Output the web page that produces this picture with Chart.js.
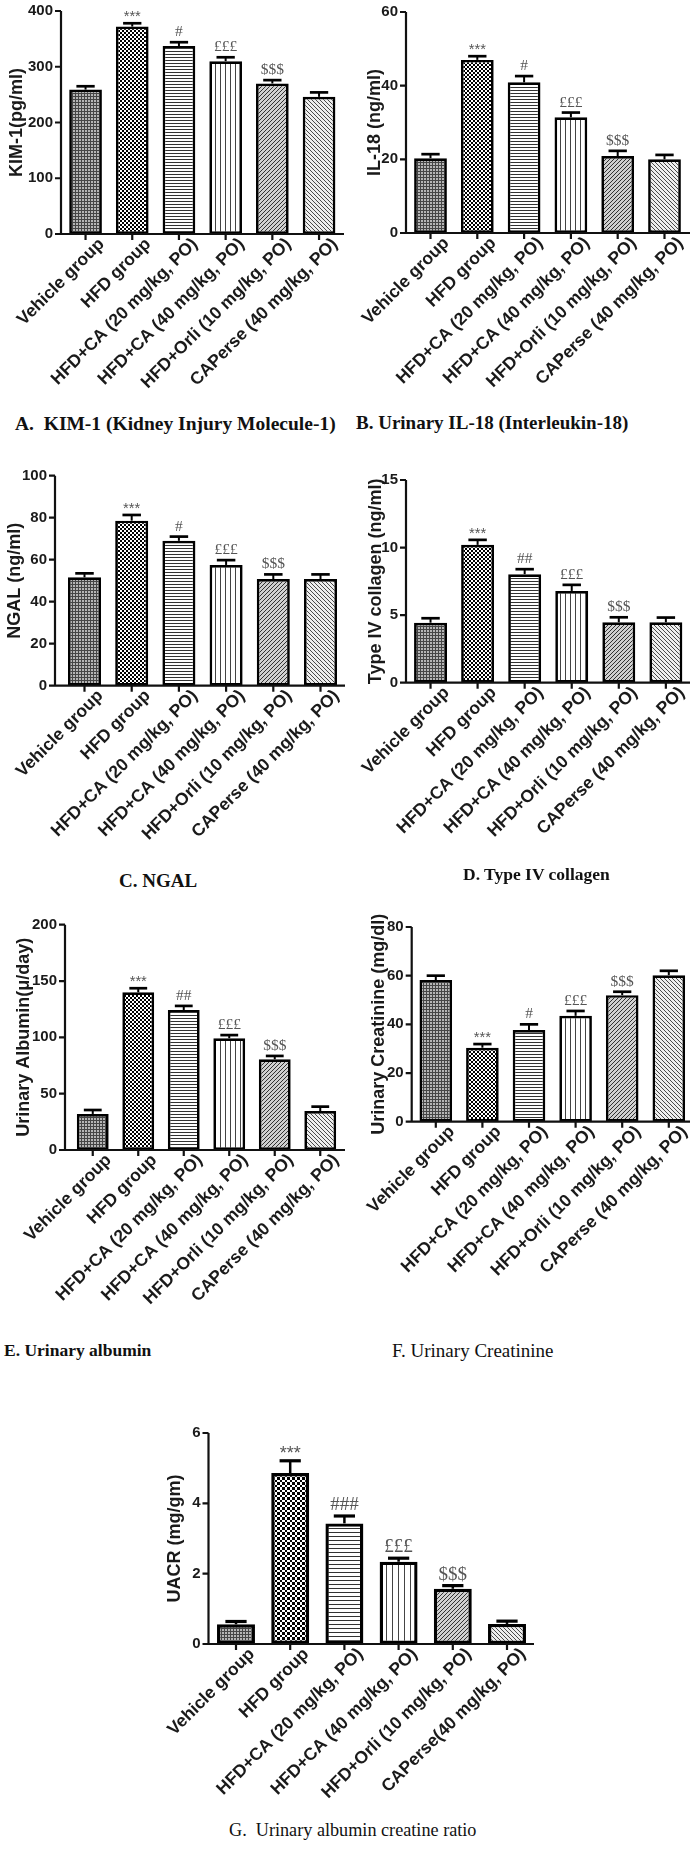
<!DOCTYPE html>
<html>
<head>
<meta charset="utf-8">
<script src="https://cdn.jsdelivr.net/npm/chart.js@4.4.0/dist/chart.umd.min.js"></script>
<style>
  html, body { margin: 0; padding: 0; background: #fff; overflow: hidden; }
  body { position: relative; width: 690px; height: 1862px; }
  canvas { position: absolute; }
  .cap { position: absolute; font-family: 'Liberation Serif', 'Times New Roman', serif; white-space: pre; line-height: 1; color: #111; }
</style>
</head>
<body>
<script>
// --- data ---
const groups = ['Vehicle group', 'HFD group', 'HFD+CA (20 mg/kg, PO)', 'HFD+CA (40 mg/kg, PO)', 'HFD+Orli (10 mg/kg, PO)', 'CAPerse (40 mg/kg, PO)'];
const groupsG = ['Vehicle group', 'HFD group', 'HFD+CA (20 mg/kg, PO)', 'HFD+CA (40 mg/kg, PO)', 'HFD+Orli (10 mg/kg, PO)', 'CAPerse(40 mg/kg, PO)'];

const kim1 = [259, 372, 337, 310, 270, 246];
const kim1Sem = [6, 6, 7, 7, 6, 8];
const kim1Sig = ['', '***', '#', '£££', '$$$', ''];
const kim1Ticks = [0, 100, 200, 300, 400];

const il18 = [20.3, 47.0, 40.9, 31.4, 20.9, 20.0];
const il18Sem = [1.1, 1.0, 1.7, 1.3, 1.4, 1.2];
const il18Sig = ['', '***', '#', '£££', '$$$', ''];
const il18Ticks = [0, 20, 40, 60];

const ngal = [51.6, 78.6, 69.0, 57.5, 50.8, 50.8];
const ngalSem = [1.9, 2.7, 2.0, 2.3, 2.2, 2.2];
const ngalSig = ['', '***', '#', '£££', '$$$', ''];
const ngalTicks = [0, 20, 40, 60, 80, 100];

const col4 = [4.44, 10.2, 8.03, 6.79, 4.47, 4.47];
const col4Sem = [0.33, 0.37, 0.37, 0.45, 0.37, 0.35];
const col4Sig = ['', '***', '##', '£££', '$$$', ''];
const col4Ticks = [0, 5, 10, 15];

const alb = [32, 140, 124.3, 99.2, 80.5, 34.6];
const albSem = [3.5, 3.6, 3.6, 2.8, 3.0, 3.9];
const albSig = ['', '***', '##', '£££', '$$$', ''];
const albTicks = [0, 50, 100, 150, 200];

const creat = [58.2, 30.4, 37.7, 43.5, 52.0, 60.2];
const creatSem = [1.8, 1.5, 2.3, 2.0, 1.4, 1.8];
const creatSig = ['', '***', '#', '£££', '$$$', ''];
const creatTicks = [0, 20, 40, 60, 80];

const uacr = [0.56, 4.86, 3.43, 2.34, 1.57, 0.57];
const uacrSem = [0.08, 0.35, 0.21, 0.10, 0.09, 0.08];
const uacrSig = ['', '***', '###', '£££', '$$$', ''];
const uacrTicks = [0, 2, 4, 6];

const SANS = "'Liberation Sans', Arial, sans-serif";
const SERIF = "'Liberation Serif', 'Times New Roman', serif";
const TITLE_SIZE = 18;

// fill textures, one per group (Prism style)
function pattern(kind, big) {
    const c = document.createElement('canvas');
    const g = c.getContext('2d');
    let s = 4;
    if (kind === 'mesh') {
        s = 3; c.width = c.height = s;
        g.fillStyle = '#b5b5b5'; g.fillRect(0, 0, s, s);
        g.fillStyle = '#454545'; g.fillRect(0, 0, s, 1); g.fillRect(0, 0, 1, s);
    } else if (kind === 'checker') {
        s = big ? 5 : 4; c.width = c.height = s;
        const h = Math.floor(s / 2);
        g.fillStyle = '#fff'; g.fillRect(0, 0, s, s);
        g.fillStyle = '#000'; g.fillRect(0, 0, h, h); g.fillRect(h, h, s - h, s - h);
    } else if (kind === 'hlines') {
        s = big ? 4 : 3; c.width = c.height = s;
        g.fillStyle = '#fff'; g.fillRect(0, 0, s, s);
        g.fillStyle = '#333'; g.fillRect(0, 0, s, 1);
    } else if (kind === 'vlines') {
        s = big ? 6 : 5; c.width = c.height = s;
        g.fillStyle = '#fff'; g.fillRect(0, 0, s, s);
        g.fillStyle = '#444'; g.fillRect(0, 0, 1, s);
    } else if (kind === 'slash') {
        s = 4; c.width = c.height = s;
        g.fillStyle = '#d0d0d0'; g.fillRect(0, 0, s, s);
        g.fillStyle = '#333';
        for (let i = 0; i < s; i++) g.fillRect(i, s - 1 - i, 1, 1);
    } else {
        s = 4; c.width = c.height = s;
        g.fillStyle = '#eeeeee'; g.fillRect(0, 0, s, s);
        g.fillStyle = '#4a4a4a';
        for (let i = 0; i < s; i++) g.fillRect(i, i, 1, 1);
    }
    return g.createPattern(c, 'repeat');
}

function fillsFor(big) {
    return ['mesh', 'checker', 'hlines', 'vlines', 'slash', 'back'].map(k => pattern(k, big));
}

// error bars, significance marks and the Prism-style axes
const prismPlugin = {
    id: 'prism',
    afterDatasetsDraw(chart, args, o) {
        const { ctx, scales: { y } } = chart;
        const ds = chart.data.datasets[0];
        const meta = chart.getDatasetMeta(0);
        ctx.save();
        ctx.strokeStyle = '#000';
        meta.data.forEach((bar, i) => {
            const yTop = y.getPixelForValue(ds.data[i] + ds.sem[i]);
            const hw = bar.width * 0.28;
            ctx.lineWidth = o.stem;
            ctx.beginPath(); ctx.moveTo(bar.x, bar.y); ctx.lineTo(bar.x, yTop); ctx.stroke();
            ctx.lineWidth = o.cap;
            ctx.beginPath(); ctx.moveTo(bar.x - hw, yTop); ctx.lineTo(bar.x + hw, yTop); ctx.stroke();
            const s = ds.sig[i];
            if (s) {
                const star = s[0] === '*';
                ctx.fillStyle = '#555';
                ctx.font = (star ? o.sigSize * 0.95 : o.sigSize) + 'px ' + (star ? SANS : SERIF);
                ctx.textAlign = 'center';
                ctx.textBaseline = 'alphabetic';
                ctx.fillText(s, bar.x, yTop - (star ? 2 : 6));
            }
        });
        ctx.restore();
    },
    afterDraw(chart, args, o) {
        const { ctx, scales: { x, y } } = chart;
        const yb = y.getPixelForValue(0), yt = y.getPixelForValue(y.max);
        ctx.save();
        ctx.strokeStyle = '#111';
        ctx.lineWidth = 2.2;
        ctx.beginPath();
        ctx.moveTo(o.axX, yt); ctx.lineTo(o.axX, yb); ctx.lineTo(o.xEnd, yb);
        y.ticks.forEach(t => {
            const py = y.getPixelForValue(t.value);
            ctx.moveTo(o.axX - 6, py); ctx.lineTo(o.axX, py);
        });
        x.ticks.forEach((t, i) => {
            const px = x.getPixelForTick(i);
            ctx.moveTo(px, yb); ctx.lineTo(px, yb + 6);
        });
        ctx.stroke();
        ctx.restore();
    }
};

// page layout of the seven panels (page pixels)
const panels = [
    { box: [0, 0, 345, 410], axX: 61, plotL: 62.2, plotR: 342.4, top: 11, bottom: 234, xEnd: 344, titleX: 17,
      title: 'KIM-1(pg/ml)', labels: groups, values: kim1, sem: kim1Sem, sig: kim1Sig, ticks: kim1Ticks },
    { box: [345, 0, 345, 410], axX: 406, plotL: 407.1, plotR: 687.9, top: 12, bottom: 233, xEnd: 690, titleX: 375,
      title: 'IL-18 (ng/ml)', labels: groups, values: il18, sem: il18Sem, sig: il18Sig, ticks: il18Ticks },
    { box: [0, 440, 345, 425], axX: 55, plotL: 60.9, plotR: 344.1, top: 475.7, bottom: 685.7, xEnd: 345, titleX: 15,
      title: 'NGAL (ng/ml)', labels: groups, values: ngal, sem: ngalSem, sig: ngalSig, ticks: ngalTicks },
    { box: [345, 440, 345, 425], axX: 406, plotL: 407, plotR: 689.4, top: 480, bottom: 682.7, xEnd: 690, titleX: 376,
      title: 'Type IV collagen (ng/ml)', labels: groups, values: col4, sem: col4Sem, sig: col4Sig, ticks: col4Ticks },
    { box: [0, 895, 345, 435], axX: 65, plotL: 70, plotR: 343, top: 924.7, bottom: 1150, xEnd: 345, titleX: 24,
      title: 'Urinary Albumin(\u03bc/day)', labels: groups, values: alb, sem: albSem, sig: albSig, ticks: albTicks },
    { box: [345, 895, 350, 435], axX: 411.7, plotL: 412.5, plotR: 692.1, top: 927, bottom: 1121.7, xEnd: 690, titleX: 379,
      title: 'Urinary Creatinine (mg/dl)', labels: groups, values: creat, sem: creatSem, sig: creatSig, ticks: creatTicks },
    { box: [140, 1400, 410, 410], axX: 208.5, plotL: 208.9, plotR: 534.1, top: 1433, bottom: 1644, xEnd: 534, titleX: 175,
      title: 'UACR (mg/gm)', labels: groupsG, values: uacr, sem: uacrSem, sig: uacrSig, ticks: uacrTicks, big: true }
];

const captions = [
    { text: 'A.  KIM-1 (Kidney Injury Molecule-1)', x: 15, y: 424, size: 19.5, bold: true },
    { text: 'B. Urinary IL-18 (Interleukin-18)', x: 356, y: 422, size: 19, bold: true },
    { text: 'C. NGAL', x: 119, y: 880, size: 19, bold: true },
    { text: 'D. Type IV collagen', x: 463, y: 875, size: 17.5, bold: true },
    { text: 'E. Urinary albumin', x: 4, y: 1351, size: 17.5, bold: true },
    { text: 'F. Urinary Creatinine', x: 392, y: 1350, size: 19, bold: false },
    { text: 'G.  Urinary albumin creatine ratio', x: 229, y: 1830, size: 18.2, bold: false }
];

function buildPanel(p) {
    const [L, T, W, H] = p.box;
    const cv = document.createElement('canvas');
    cv.width = W; cv.height = H;
    cv.style.left = L + 'px'; cv.style.top = T + 'px';
    cv.style.width = W + 'px'; cv.style.height = H + 'px';
    document.body.appendChild(cv);

    new Chart(cv, {
        type: 'bar',
        data: {
            labels: p.labels,
            datasets: [{
                data: p.values,
                sem: p.sem,
                sig: p.sig,
                backgroundColor: fillsFor(p.big),
                borderColor: '#000',
                borderWidth: p.big ? 3.4 : 2.7,
                borderSkipped: false,
                barPercentage: 0.7,
                categoryPercentage: 1
            }]
        },
        options: {
            responsive: false,
            animation: false,
            devicePixelRatio: 1,
            layout: { autoPadding: false, padding: { left: 0, top: p.top - T, right: L + W - p.plotR, bottom: 0 } },
            plugins: {
                legend: { display: false },
                tooltip: { enabled: false },
                prism: { axX: p.axX - L, xEnd: p.xEnd - L, stem: p.big ? 2.5 : 2, cap: p.big ? 3.2 : 2.7, sigSize: p.big ? 19 : 15.5 }
            },
            scales: {
                x: {
                    grid: { display: false, drawTicks: false },
                    border: { display: false },
                    ticks: {
                        autoSkip: false, minRotation: 45, maxRotation: 45, padding: 0, labelOffset: 16,
                        color: '#1a1a1a', font: { family: SANS, weight: 'bold', size: 17.5 }
                    },
                    afterFit: s => { s.height = T + H - p.bottom; s.paddingLeft = 0; s.paddingRight = 0; }
                },
                y: {
                    min: 0,
                    max: p.ticks[p.ticks.length - 1],
                    grid: { display: false, drawTicks: false },
                    border: { display: false },
                    afterBuildTicks: s => { s.ticks = p.ticks.map(v => ({ value: v })); },
                    ticks: {
                        padding: p.plotL - p.axX + 8,
                        color: '#1a1a1a', font: { family: SANS, weight: 'bold', size: 15 }
                    },
                    title: {
                        display: true, text: p.title, color: '#1a1a1a',
                        padding: { top: p.titleX - L - TITLE_SIZE * 0.6, bottom: 0 },
                        font: { family: SANS, weight: 'bold', size: TITLE_SIZE }
                    },
                    afterFit: s => { s.width = p.plotL - L; s.paddingTop = 0; s.paddingBottom = 0; }
                }
            }
        },
        plugins: [prismPlugin]
    });
}

panels.forEach(buildPanel);

captions.forEach(c => {
    const d = document.createElement('div');
    d.className = 'cap';
    d.textContent = c.text;
    d.style.left = c.x + 'px';
    d.style.top = (c.y - c.size / 2) + 'px';
    d.style.fontSize = c.size + 'px';
    d.style.fontWeight = c.bold ? 'bold' : 'normal';
    document.body.appendChild(d);
});
</script>
</body>
</html>
